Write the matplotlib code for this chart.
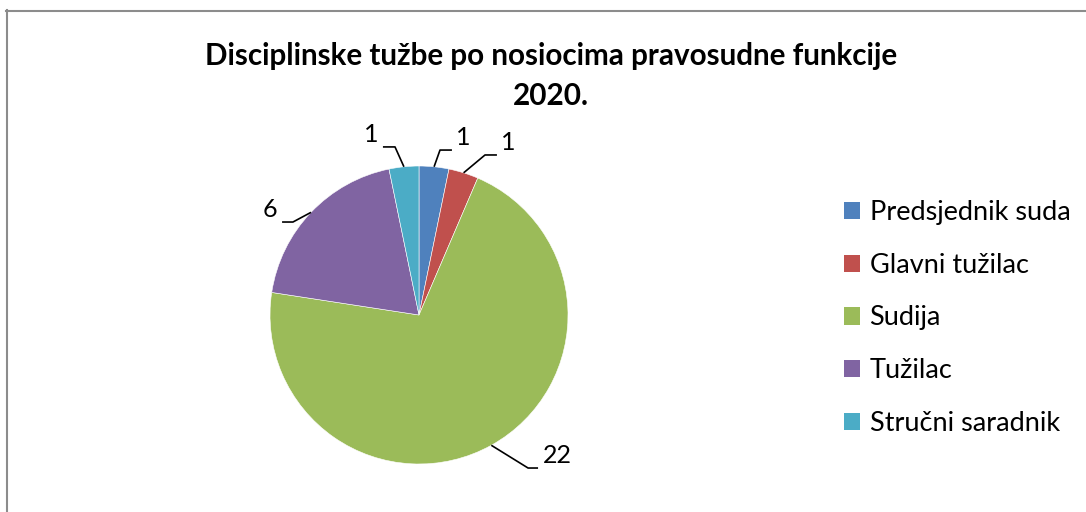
import numpy as np
import matplotlib.pyplot as plt
from matplotlib.lines import Line2D
from matplotlib.patches import Patch

plt.rcParams['font.family'] = ['Lato', 'DejaVu Sans']

# Podaci
kategorije = ['Predsjednik suda', 'Glavni tužilac', 'Sudija', 'Tužilac', 'Stručni saradnik']
vrijednosti = [1, 1, 22, 6, 1]
boje = ['#4F81BD', '#C0504D', '#9BBB59', '#8064A2', '#4BACC6']
naslov = 'Disciplinske tužbe po nosiocima pravosudne funkcije\n2020.'

# pozicije oznaka (lakat, kraj linije) u jedinicama radijusa
lakat = [(0.141, 1.107), (0.443, 1.074), (0.732, -1.027), (-0.846, 0.624), (-0.161, 1.128)]
kraj = [(0.221, 1.107), (0.523, 1.074), (0.799, -1.027), (-0.919, 0.624), (-0.242, 1.128)]

W, H = 1086, 512
fig = plt.figure(figsize=(W / 100, H / 100), dpi=100)

cx, cy, r = 419, 315, 149
ax = fig.add_axes([(cx - r) / W, (H - cy - r) / H, 2 * r / W, 2 * r / H])
wedges, _ = ax.pie(vrijednosti, colors=boje, startangle=90, counterclock=False,
                   radius=1, wedgeprops=dict(edgecolor='white', linewidth=0.4))
ax.set_xlim(-1, 1)
ax.set_ylim(-1, 1)
ax.set_aspect('equal')
ax.axis('off')

# oznake sa linijama
ukupno = sum(vrijednosti)
kum = np.cumsum([0] + vrijednosti)
for i, v in enumerate(vrijednosti):
    ugao = np.deg2rad(90 - 360 * (kum[i] + v / 2) / ukupno)
    x0, y0 = np.cos(ugao), np.sin(ugao)
    (lx, ly), (ex, ey) = lakat[i], kraj[i]
    ax.plot([x0, lx, ex], [y0, ly, ey], color='black', lw=1.2, clip_on=False,
            solid_capstyle='butt')
    desno = ex > lx
    ax.text(ex + (0.03 if desno else -0.03), ey + 0.005, str(v),
            ha='left' if desno else 'right', va='bottom', fontsize=18,
            clip_on=False)

fig.text(551 / W, 1 - 76 / H, naslov, ha='center', va='center',
         fontsize=21.3, fontweight='bold', linespacing=1.5)

rukovaoci = [Patch(facecolor=c, edgecolor='none') for c in boje]
fig.legend(rukovaoci, kategorije, loc='center left', bbox_to_anchor=(833 / W, 1 - 318 / H),
           frameon=False, fontsize=19.5, handlelength=0.6, handleheight=0.6,
           handletextpad=0.35, labelspacing=1.02, borderaxespad=0)

# okvir
fig.add_artist(Line2D([6.5 / W, 6.5 / W], [0, 1 - 10 / H], color='#8c8c8c', lw=1.5,
                      transform=fig.transFigure))
fig.add_artist(Line2D([6 / W, 1], [1 - 10.5 / H, 1 - 10.5 / H], color='#8c8c8c', lw=1.5,
                      transform=fig.transFigure))

fig.savefig('out.png', dpi=100, facecolor='white')
